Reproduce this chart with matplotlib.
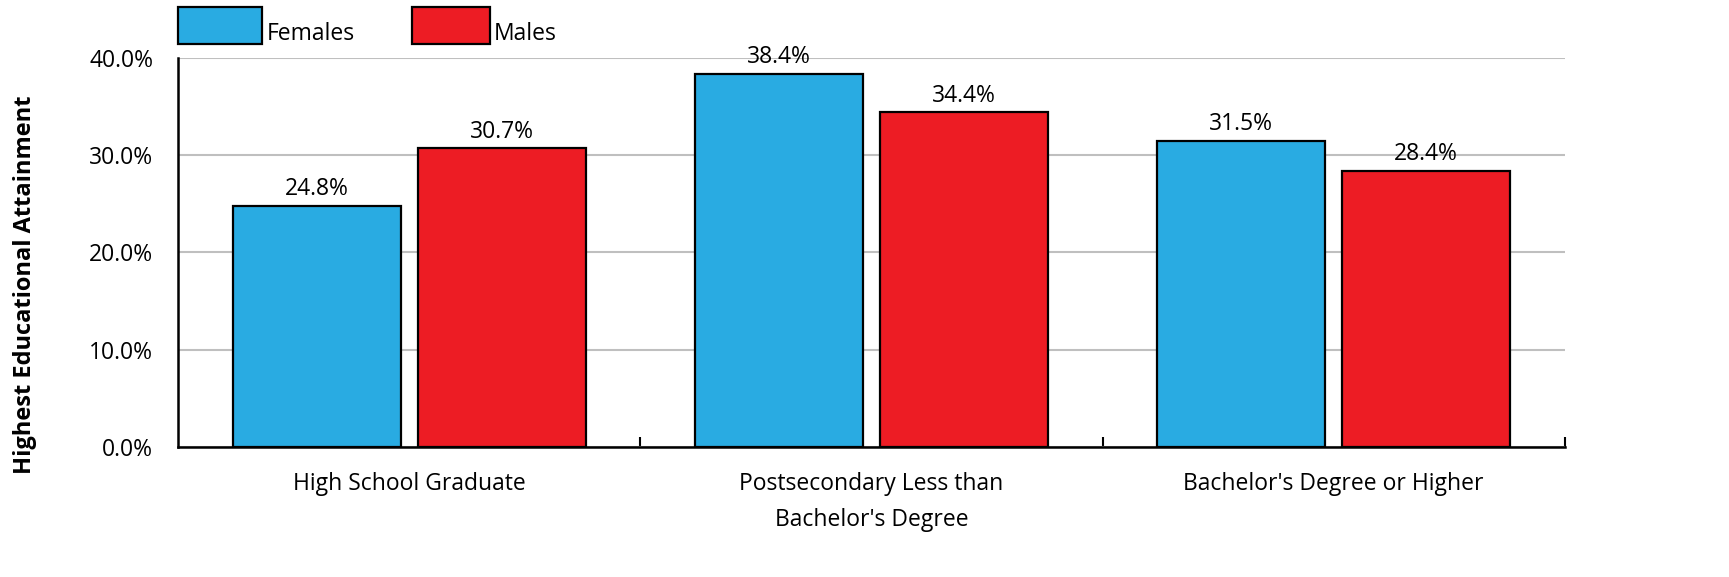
import matplotlib.pyplot as plt
from matplotlib.patches import Rectangle
from matplotlib.ticker import FixedLocator, PercentFormatter
import numpy as np

categories = ["High School Graduate", "Postsecondary Less than\nBachelor's Degree",
              "Bachelor's Degree or Higher"]
females = [24.8, 38.4, 31.5]
males = [30.7, 34.4, 28.4]

BLUE = "#29ABE2"
RED = "#ED1C24"

plt.rcParams["font.family"] = ["Open Sans", "DejaVu Sans"]

fig = plt.figure(figsize=(17.29, 5.77), dpi=100)
ax = fig.add_axes([0.103, 0.2253, 0.802, 0.6742])

x = np.arange(len(categories))
w = 0.364
b1 = ax.bar(x - 0.2, females, w, color=BLUE, edgecolor="black", linewidth=1.6, zorder=3)
b2 = ax.bar(x + 0.2, males, w, color=RED, edgecolor="black", linewidth=1.6, zorder=3)

for bars, vals in ((b1, females), (b2, males)):
    for bar, v in zip(bars, vals):
        ax.text(bar.get_x() + bar.get_width() / 2, v + 0.5, f"{v:.1f}%",
                ha="center", va="bottom", fontsize=16.5, zorder=4)

ax.set_xlim(-0.5, 2.5)
ax.set_ylim(0, 40)
ax.set_yticks([0, 10, 20, 30, 40])
ax.yaxis.set_major_formatter(PercentFormatter(decimals=1))
ax.yaxis.grid(True, color="#BFBFBF", linewidth=1.5, zorder=0)
ax.set_axisbelow(True)

ax.set_xticks(x)
ax.set_xticklabels(categories, fontsize=16.5, linespacing=1.65)
ax.xaxis.set_minor_locator(FixedLocator([0.5, 1.5, 2.5]))
ax.tick_params(axis="x", which="major", length=0, pad=18)
ax.tick_params(axis="x", which="minor", direction="in", length=7, width=1.5)
ax.tick_params(axis="y", length=0, pad=18, labelsize=16.5)

for s in ("top", "right"):
    ax.spines[s].set_visible(False)
ax.spines["left"].set_linewidth(1.8)
ax.spines["bottom"].set_linewidth(1.8)

fig.text(25 / 1729, 1 - 285 / 577, "Highest Educational Attainment", rotation=90,
         ha="center", va="center", fontsize=17, fontweight="bold")

# legend drawn by hand: patch with label sitting at its bottom edge
for x0, w0, color, label in ((0.0, 0.0606, BLUE, "Females"), (0.1687, 0.0562, RED, "Males")):
    ax.add_patch(Rectangle((x0, 1.035), w0, 0.095, transform=ax.transAxes,
                           facecolor=color, edgecolor="black", linewidth=1.6, clip_on=False))
    ax.text(x0 + w0 + 0.003, 1.03, label, transform=ax.transAxes,
            fontsize=16.5, ha="left", va="bottom")

fig.savefig("out.png", dpi=100)
